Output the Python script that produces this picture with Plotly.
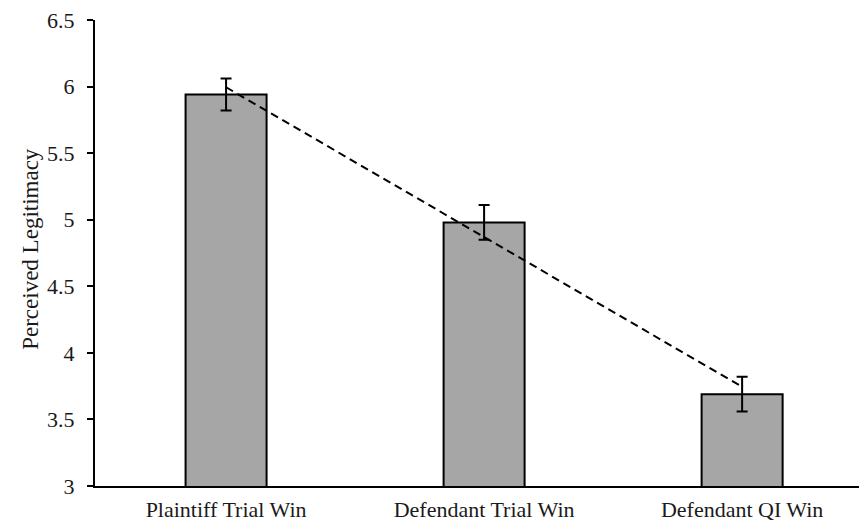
import numpy as np
import plotly.graph_objects as go

# Mean perceived legitimacy by case outcome, with standard errors
categories = ["Plaintiff Trial Win", "Defendant Trial Win", "Defendant QI Win"]
means = [5.94, 4.98, 3.69]
errors = [0.12, 0.13, 0.13]
y_ticks = [3, 3.5, 4, 4.5, 5, 5.5, 6, 6.5]
y_tick_labels = ["3", "3.5", "4", "4.5", "5", "5.5", "6", "6.5"]
y_title = "Perceived Legitimacy"

FONT = "Liberation Serif"

xs = np.arange(len(categories))
slope, intercept = np.polyfit(xs, means, 1)
trend = slope * xs + intercept

fig = go.Figure()
fig.add_trace(go.Bar(
    x=xs, y=means, width=0.314,
    marker=dict(color="#a6a6a6", line=dict(color="#000000", width=2)),
    error_y=dict(type="data", array=errors, visible=True,
                 color="#000000", thickness=2, width=5.5),
    showlegend=False,
))
fig.add_trace(go.Scatter(
    x=xs, y=trend, mode="lines",
    line=dict(color="#000000", width=2, dash="8px,5px"),
    showlegend=False, hoverinfo="skip",
))

# rotated axis title placed as an annotation for finer positioning
fig.add_annotation(
    text=y_title, textangle=-90, showarrow=False,
    xref="paper", yref="paper", x=0, y=0.509,
    xanchor="center", yanchor="middle", xshift=-64,
    font=dict(family=FONT, size=23, color="#1a1a1a"),
)

fig.update_layout(
    width=859, height=525,
    margin=dict(l=95, r=0, t=20, b=39),
    paper_bgcolor="#ffffff", plot_bgcolor="#ffffff",
    font=dict(family=FONT, color="#1a1a1a", size=21),
    xaxis=dict(
        range=[-0.508, 2.453], tickmode="array", tickvals=list(xs),
        ticktext=categories, showgrid=False, zeroline=False,
        showline=True, linecolor="#000000", linewidth=2,
        ticks="", ticklabelstandoff=3, automargin=False,
        tickfont=dict(family=FONT, size=22),
    ),
    yaxis=dict(
        range=[3, 6.5], tickmode="array", tickvals=y_ticks,
        ticktext=y_tick_labels, showgrid=False, zeroline=False,
        showline=True, linecolor="#000000", linewidth=2,
        ticks="outside", ticklen=6, tickwidth=2, tickcolor="#000000",
        ticklabelstandoff=8, automargin=False,
        tickfont=dict(family=FONT, size=22),
    ),
)

fig.write_html("out.html")
